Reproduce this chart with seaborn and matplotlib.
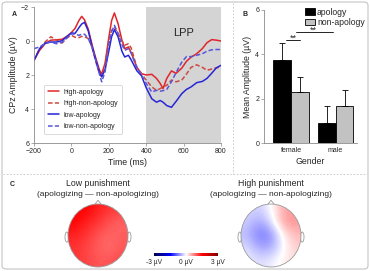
import numpy as np
import pandas as pd
import seaborn as sns
import matplotlib.pyplot as plt
from matplotlib.patches import Circle, Polygon, FancyBboxPatch, Ellipse
from matplotlib.lines import Line2D
from matplotlib.colors import Normalize
from matplotlib.cm import ScalarMappable

# ---- panel A: CPz waveforms (uV) ----
times = [-200, -170, -140, -110, -80, -50, -20, 0, 20, 40, 55, 70, 90, 110, 130,
         150, 162, 180, 200, 215, 230, 250, 270, 285, 305, 320, 350, 375, 400,
         430, 455, 475, 490, 510, 535, 560, 590, 615, 640, 670, 700, 725, 750,
         775, 800]
high_apology = [1.14, 0.55, 0.15, -0.05, -0.07, -0.1, -0.3, -0.5, -0.75, -1.2,
                -1.45, -1.25, -0.7, 0.2, 1.0, 1.7, 1.95, 1.3, -0.2, -1.2, -1.65,
                -1.0, -0.05, 0.45, 0.35, 0.7, 1.55, 1.92, 2.0, 1.96, 2.2, 2.5,
                2.8, 2.2, 1.76, 1.9, 1.6, 1.2, 0.95, 0.75, 0.45, 0.1, -0.08,
                -0.05, 0.0]
high_non_apology = [1.14, 0.45, 0.05, -0.25, -0.05, 0.12, -0.22, -0.33, -0.22,
                    -0.2, -0.27, -0.25, -0.15, 0.35, 1.2, 1.95, 2.1, 1.5, 0.0,
                    -0.62, -0.82, -0.43, -0.02, 0.25, 0.16, 0.42, 1.55, 1.92,
                    2.3, 2.7, 2.9, 2.8, 2.7, 2.6, 2.3, 2.4, 2.3, 1.95, 1.55,
                    1.4, 1.55, 1.72, 1.65, 1.58, 1.53]
low_apology = [1.14, 0.45, 0.12, 0.06, 0.06, -0.02, -0.3, -0.47, -0.45, -0.78,
               -1.0, -1.1, -0.6, 0.3, 1.1, 1.85, 2.1, 1.7, 0.6, -0.25, -0.67,
               -0.24, 0.6, 0.94, 0.84, 1.12, 1.75, 2.05, 2.75, 3.4, 3.6, 3.5,
               3.6, 3.8, 3.9, 3.55, 3.1, 2.85, 2.7, 2.45, 2.38, 2.2, 1.9, 1.58,
               1.43]
low_non_apology = [0.45, 0.35, 0.15, 0.06, 0.16, 0.08, -0.22, -0.42, -0.4,
                   -0.33, -0.4, -0.4, -0.15, 0.35, 1.15, 1.95, 2.4, 1.8, 0.2,
                   -0.55, -0.92, -0.43, 0.2, 0.55, 0.45, 0.72, 1.55, 2.0, 2.5,
                   3.0, 2.9, 2.95, 2.92, 2.85, 2.4, 1.85, 1.25, 0.92, 0.92,
                   0.84, 0.75, 0.6, 0.52, 0.5, 0.5]
conditions = ["high-apology", "high-non-apology", "low-apology", "low-non-apology"]

# ---- panel B: mean LPP amplitude ----
genders = ["female", "male"]
apology_mean = [3.75, 0.9]
apology_err = [0.75, 0.75]
non_apology_mean = [2.28, 1.65]
non_apology_err = [0.72, 0.75]

# ---- panel C: difference topographies (coarse grid, uV) ----
low_map = [[1.5, 1.5, 1.3, 1.2, 1.1],
           [1.5, 1.3, 1.2, 1.0, 0.9],
           [1.3, 1.2, 1.0, 0.9, 0.95],
           [1.2, 1.1, 0.95, 0.85, 1.0],
           [1.2, 1.1, 1.0, 1.0, 1.1]]
high_map = [[-0.2, -0.3, 0.0, 0.5, 0.6],
            [-0.3, -0.55, -0.2, 0.6, 0.6],
            [-0.4, -0.8, -0.7, 0.1, 0.4],
            [-0.2, -0.5, -0.5, 0.0, 0.3],
            [-0.1, -0.2, -0.1, 0.1, 0.2]]
cbar_ticks = [-3, 0, 3]
cbar_labels = ["-3 µV", "0 µV", "3 µV"]

sns.set_style("ticks")
plt.rcParams["font.family"] = ["Liberation Sans", "DejaVu Sans"]

W, H = 370, 271
fig = plt.figure(figsize=(W / 100, H / 100), dpi=100)


def px_axes(l, t, r, b):
    return fig.add_axes([l / W, 1 - b / H, (r - l) / W, (b - t) / H])


grey = "#8a8a8a"

# ---------------- A ----------------
axA = px_axes(34, 7, 221, 143)
df = pd.DataFrame({
    "time": times * 4,
    "amp": high_apology + high_non_apology + low_apology + low_non_apology,
    "cond": np.repeat(conditions, len(times)),
})
axA.axvspan(400, 800, color="#d4d4d4", lw=0, zorder=0)
pal = {"high-apology": "#e0262a", "high-non-apology": "#cc4a40",
       "low-apology": "#2626d6", "low-non-apology": "#5656dc"}
dash = {"high-apology": "", "high-non-apology": (3, 1.5),
        "low-apology": "", "low-non-apology": (3, 1.5)}
sns.lineplot(data=df, x="time", y="amp", hue="cond", style="cond",
             palette=pal, dashes=dash, lw=1.1, ax=axA)
axA.set_xlim(-200, 800)
axA.set_ylim(6, -2)
axA.set_xticks([-200, 0, 200, 400, 600, 800])
axA.set_yticks([-2, 0, 2, 4, 6])
axA.set_xlabel("Time (ms)", fontsize=6.3, labelpad=2)
axA.set_ylabel("CPz Amplitude (µV)", fontsize=6.3, labelpad=2)
axA.tick_params(labelsize=5, length=2, width=0.5, color=grey, pad=1.5)
for s in ["top", "right"]:
    axA.spines[s].set_visible(False)
for s in ["left", "bottom"]:
    axA.spines[s].set_color(grey)
    axA.spines[s].set_linewidth(0.6)
axA.text(600, -0.5, "LPP", fontsize=8, ha="center", va="center")
leg = axA.legend(loc="lower left", bbox_to_anchor=(0.035, 0.04), fontsize=5,
                 handlelength=1.6, labelspacing=0.65, borderpad=0.55,
                 handletextpad=0.6, fancybox=True, framealpha=1,
                 edgecolor="#cccccc")
leg.get_frame().set_linewidth(0.5)

# ---------------- B ----------------
axB = px_axes(264, 10, 357, 143)
df_bar = pd.DataFrame({
    "gender": genders * 2,
    "mean": apology_mean + non_apology_mean,
    "type": ["apology"] * 2 + ["non-apology"] * 2,
})
sns.barplot(data=df_bar, x="gender", y="mean", hue="type", errorbar=None,
            palette={"apology": "black", "non-apology": "#c2c2c2"},
            edgecolor="black", linewidth=0.6, ax=axB)
for cont, errs in zip(axB.containers, [apology_err, non_apology_err]):
    xs = [b.get_x() + b.get_width() / 2 for b in cont]
    hs = [b.get_height() for b in cont]
    axB.errorbar(xs, hs, yerr=[np.zeros(len(errs)), errs], fmt="none",
                 ecolor="black", elinewidth=0.6, capsize=2.2, capthick=0.6)
axB.set_xlim(-0.607, 1.48)
axB.set_ylim(0, 6)
axB.set_yticks([0, 2, 4, 6])
axB.set_xlabel("Gender", fontsize=6.3, labelpad=2)
axB.set_ylabel("Mean Amplitude (µV)", fontsize=6.3, labelpad=2)
axB.tick_params(axis="y", labelsize=5, length=2, width=0.5, color=grey, pad=1.5)
axB.tick_params(axis="x", labelsize=5, length=0, pad=3)
for s in ["top", "right"]:
    axB.spines[s].set_visible(False)
for s in ["left", "bottom"]:
    axB.spines[s].set_color(grey)
    axB.spines[s].set_linewidth(0.6)
axB.legend(loc="upper right", bbox_to_anchor=(1.13, 1.05), frameon=False,
           fontsize=6.2, handlelength=1.1, handleheight=0.75,
           handletextpad=0.25, labelspacing=0.15, borderpad=0)
# significance markers
axB.plot([-0.11, 0.2], [4.65, 4.65], color="black", lw=0.6)
axB.text(0.045, 4.62, "**", fontsize=6.5, ha="center", va="baseline")
axB.plot([0.11, 0.94], [5.0, 5.0], color="black", lw=0.6)
axB.text(0.5, 4.97, "**", fontsize=6.5, ha="center", va="baseline")

# ---------------- C ----------------
cmap = plt.get_cmap("seismic")
norm = Normalize(-3, 3)


def head(cx, grid):
    cy, rx, ry = 235.5, 30, 31.5
    ax = px_axes(cx - 1.3 * rx, cy - 1.2 * ry, cx + 1.3 * rx, cy + 1.15 * ry)
    ax.set_xlim(-1.3, 1.3)
    ax.set_ylim(-1.15, 1.2)
    ax.axis("off")
    im = ax.imshow(np.array(grid), cmap=cmap, norm=norm, extent=[-1, 1, -1, 1],
                   interpolation="bicubic", aspect="auto", zorder=1)
    clip = Circle((0, 0), 1, transform=ax.transData)
    im.set_clip_path(clip)
    ax.add_patch(Circle((0, 0), 1, fill=False, ec="#9a9a9a", lw=0.6, zorder=3))
    ax.add_patch(Polygon([[-0.1, 0.995], [0, 1.12], [0.1, 0.995]], closed=False,
                         fill=False, ec="#9a9a9a", lw=0.6, zorder=3))
    for sx in (-1, 1):
        ax.add_patch(Ellipse((sx * 1.04, -0.05), 0.12, 0.32, fill=False,
                             ec="#9a9a9a", lw=0.6, zorder=0))
    return ax


head(98, low_map)
head(271, high_map)

fig.text(98 / W, 1 - 183 / H, "Low punishment", fontsize=6.3, ha="center", va="center")
fig.text(98 / W, 1 - 194 / H, "(apologizing — non-apologizing)", fontsize=6,
         ha="center", va="center")
fig.text(271 / W, 1 - 183 / H, "High punishment", fontsize=6.3, ha="center", va="center")
fig.text(271 / W, 1 - 194 / H, "(apologizing — non-apologizing)", fontsize=6,
         ha="center", va="center")

cax = px_axes(154, 253, 218, 256)
cb = fig.colorbar(ScalarMappable(norm=norm, cmap=cmap), cax=cax,
                  orientation="horizontal", ticks=cbar_ticks)
cb.set_ticklabels(cbar_labels)
cb.outline.set_visible(False)
cax.tick_params(labelsize=4.8, length=0, pad=2)

# panel letters and frame
fig.text(12 / W, 1 - 14 / H, "A", fontsize=5, fontweight="bold", va="center")
fig.text(243 / W, 1 - 15 / H, "B", fontsize=5, fontweight="bold", va="center")
fig.text(10 / W, 1 - 184 / H, "C", fontsize=5, fontweight="bold", va="center")
fig.patches.append(FancyBboxPatch((2 / W, 2 / H), (W - 4) / W, (H - 4) / H,
                                  boxstyle="round,pad=0,rounding_size=0.012",
                                  transform=fig.transFigure, fill=False,
                                  ec="#c4c4c4", lw=0.8))
fig.add_artist(Line2D([3 / W, 1 - 3 / W], [1 - 174 / H] * 2, transform=fig.transFigure,
                      ls=(0, (2, 2)), color="#c4c4c4", lw=0.6))
fig.add_artist(Line2D([233 / W] * 2, [1 - 3 / H, 1 - 174 / H], transform=fig.transFigure,
                      ls=(0, (2, 2)), color="#c4c4c4", lw=0.6))

fig.savefig("out.png", dpi=100)
